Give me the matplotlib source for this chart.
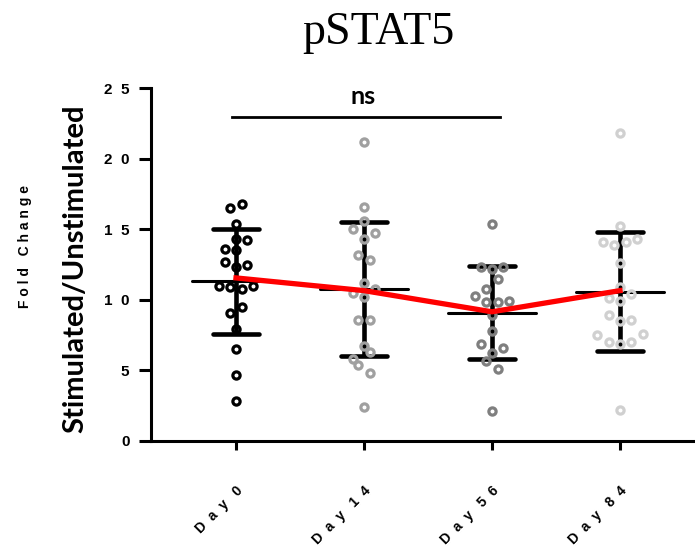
import matplotlib
matplotlib.use("Agg")
import matplotlib.pyplot as plt
import matplotlib.transforms as mtransforms
import numpy as np

days = ["D  a  y   0", "D  a  y   1  4", "D  a  y   5  6", "D  a  y   8  4"]

day0 = [16.8, 16.5, 15.4, 14.3, 14.2, 13.6, 13.5, 12.7, 12.5, 12.3,
        11.0, 10.9, 10.8, 11.0, 9.1, 9.5, 7.9, 6.5, 4.7, 2.8]
day14 = [21.2, 16.6, 15.6, 15.0, 14.7, 14.3, 13.2, 12.8, 11.2, 10.8,
         10.5, 10.2, 8.6, 8.6, 6.7, 6.3, 5.8, 5.4, 4.8, 2.4]
day56 = [15.4, 12.35, 12.2, 12.35, 11.45, 10.75, 10.3, 9.85, 9.85, 9.95,
         8.9, 7.8, 6.9, 6.6, 6.2, 5.7, 5.1, 2.1]
day84 = [21.8, 15.2, 14.1, 13.9, 14.1, 14.3, 12.6, 10.9, 10.4, 10.1,
         9.9, 8.9, 8.5, 8.6, 7.5, 7.6, 7.0, 6.9, 7.0, 2.2]

# horizontal swarm slots for each point (in marker-width steps)
slots0 = [1, -1, 0, 0, 2, -2, 0, -2, 2, 0, -3, -1, 1, 3, -1, 1, 0, 0, 0, 0]
slots14 = [0, 0, 0, -2, 2, 0, -1, 1, 0, 2, -2, 0, -1, 1, 0, 1, -2, -1, 1, 0]
slots56 = [0, -2, 0, 2, 1, -1, -3, -1, 1, 3, 0, 0, -2, 2, 0, -1, 1, 0]
slots84 = [0, 0, -3, -1, 1, 3, 0, 0, 2, -2, 0, -2, 0, 2, -4, 4, -2, 0, 2, 0]

means = [11.3, 10.75, 9.05, 10.55]
sd_hi = [15.0, 15.5, 12.4, 14.8]
sd_lo = [7.6, 6.0, 5.8, 6.35]
trend = [11.55, 10.65, 9.15, 10.65]

colors = ["black", "#a0a0a0", "#7f7f7f", "#d0d0d0"]

fig = plt.figure(figsize=(6.95, 5.51), dpi=100)
ax = fig.add_axes([151 / 695, 1 - 441 / 551, 1 - 151 / 695, (441 - 88) / 551])

step = 0.0445
groups = [day0, day14, day56, day84]
slots = [slots0, slots14, slots56, slots84]
for i, (vals, sl, col) in enumerate(zip(groups, slots, colors)):
    # SD whiskers and mean line
    ax.plot([i, i], [sd_lo[i], sd_hi[i]], color="black", lw=3.3, zorder=2,
            solid_capstyle="butt")
    for v in (sd_lo[i], sd_hi[i]):
        ax.plot([i - 0.18, i + 0.18], [v, v], color="black", lw=3.3, zorder=2,
                solid_capstyle="round")
    ax.plot([i - 0.34, i + 0.34], [means[i], means[i]], color="black", lw=2.2,
            zorder=2, solid_capstyle="round")
    x = i + step * np.array(sl)
    ax.plot(x, vals, "o", mfc="none", mec=col, mew=2.3, ms=5.2, zorder=3,
            linestyle="none")

ax.plot(range(4), trend, color="#ff0000", lw=3.8, zorder=4)

# significance bar
ax.plot([-0.03, 2.06], [22.95, 22.95], color="black", lw=2.0, clip_on=False)
ax.text(0.99, 23.6, "ns", ha="center", va="bottom", fontsize=18,
        fontweight="bold", family="Lato")

ax.set_xlim(-0.664, 3.586)
ax.set_ylim(0, 25)
ax.set_yticks([0, 5, 10, 15, 20, 25])
ax.set_yticklabels(["0", "5", "1  0", "1  5", "2  0", "2  5"], fontsize=11,
                   fontweight="bold", family="Liberation Sans")
ax.set_xticks(range(4))
ax.set_xticklabels(days, rotation=45, ha="right", va="top",
                   rotation_mode="anchor", fontsize=10, fontweight="bold",
                   family="Liberation Sans")
shift = mtransforms.ScaledTranslation(-5 / 100, 0, fig.dpi_scale_trans)
for lbl in ax.get_xticklabels():
    lbl.set_transform(lbl.get_transform() + shift)
ax.tick_params(axis="y", length=8.5, width=2.2, pad=7)
ax.tick_params(axis="x", length=6.5, width=2.2, pad=24)
for s in ("top", "right"):
    ax.spines[s].set_visible(False)
for s in ("left", "bottom"):
    ax.spines[s].set_linewidth(2.2)

fig.text(378 / 695, 1 - 33 / 551, "pSTAT5", ha="center", va="center",
         fontsize=33, family="Liberation Serif")
fig.text(75 / 695, 1 - 269 / 551, "Stimulated/Unstimulated", rotation=90,
         ha="center", va="center", fontsize=21, fontweight="bold", family="Lato")
fig.text(25 / 695, 1 - 246 / 551, "F o l d   C h a n g e", rotation=90,
         ha="center", va="center", fontsize=10, fontweight="bold",
         family="Liberation Sans")

fig.savefig("out.png", dpi=100)
